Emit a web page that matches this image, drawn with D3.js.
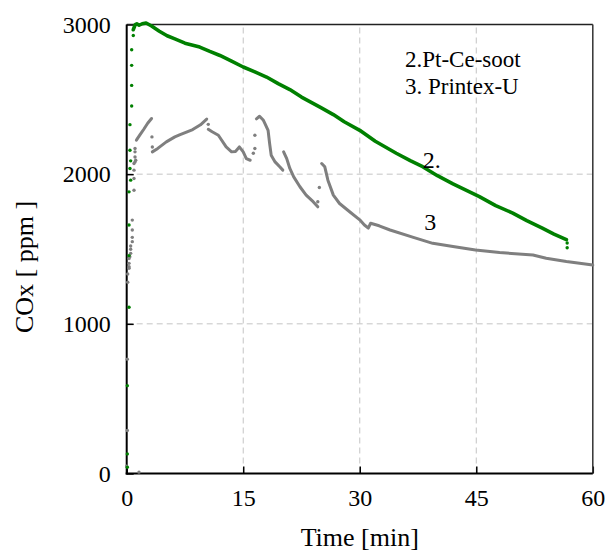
<!DOCTYPE html>
<html>
<head>
<meta charset="utf-8">
<script src="https://cdn.jsdelivr.net/npm/d3@7/dist/d3.min.js"></script>
<style>
  body { margin: 0; background: #fff; }
  svg, svg text { font-family: "Liberation Serif", "Times New Roman", Times, "DejaVu Serif", serif; }
</style>
</head>
<body>
<svg id="chart"></svg>
<script>
const width = 608;
const height = 553;
const green = '#008000';
const gray = '#7f7f7f';
const serif = '"Liberation Serif", "Times New Roman", Times, "DejaVu Serif", serif';

// axis ticks
const xTicks = [0, 15, 30, 45, 60];
const yTicks = [0, 1000, 2000, 3000];
const xGrid = [15, 30, 45];
const yGrid = [1000, 2000];

// 2. Pt-Ce-soot  [time min, COx ppm]
const greenRamp = [[0.08,42],[0.08,131],[0.08,587],[0.3,1111],[0.3,1456],[0.3,1660],[0.3,1882],
    [0.51,1960],[0.42,2038],[0.51,2089],[0.42,2160],[0.42,2331],[0.64,2455],[0.64,2593],
    [0.64,2727],[0.64,2831],[0.85,2927]];
const greenCurve = [[0.85,2965],[1.1,3000],[1.3,3005],[1.6,2995],[2.0,3005],[2.5,3010],[3.2,2990],
    [4.2,2955],[5.2,2925],[6.2,2904],[7.5,2875],[9.4,2849],[10.7,2820],[12,2793],[13.5,2755],
    [15,2716],[16.5,2683],[18,2649],[19.5,2605],[21,2565],[22.5,2515],[25,2445],[26.6,2398],
    [28,2350],[30,2293],[32,2220],[34.7,2140],[36.5,2090],[38.1,2050],[40,1990],[42,1935],
    [45.4,1850],[47.5,1790],[49.7,1740],[51.5,1690],[53.5,1640],[55,1600],[56.6,1562]];
const greenTail = [[56.7,1540],[56.7,1508]];

// 3. Printex-U
const grayRamp = [[0,49],[1.58,9],[0.08,287],[0.08,764],[0.13,1278],[0.13,1333],[0.3,1371],
    [0.3,1382],[0.3,1404],[0.3,1436],[0.4,1449],[0.51,1471],[0.51,1498],[0.51,1520],[0.72,1549],
    [0.72,1578],[0.72,1627],[0.72,1693],[0.94,1893],[0.94,1971],[0.94,2027],[0.94,2071],
    [1.16,2093],[1.07,2082],[1.07,2115],[1.07,2149],[1.07,2171]];
const grayA = [[1.25,2227],[1.7,2262],[2.2,2300],[2.7,2340],[3.2,2372]];
const grayB = [[3.3,2149],[4.0,2172],[5.1,2216],[6.2,2249],[6.8,2262],[8.5,2298],[9.5,2330],[10.3,2368]];
const grayC = [[10.5,2300],[11.0,2283],[11.8,2260],[12.8,2182],[13.5,2149],[14.0,2152],[14.5,2182],
    [15.0,2149],[15.4,2104],[15.9,2093]];
const grayD = [[16.7,2370],[17.1,2387],[17.6,2360],[17.8,2338],[18.2,2293],[18.4,2204],[18.6,2127],
    [19.1,2082],[19.7,2049],[20.1,2027]];
const grayE = [[20.2,2149],[20.6,2104],[21.0,2038],[21.5,1982],[22.3,1916],[23.1,1860],[24.0,1816],[24.6,1782]];
const grayF = [[25.1,2071],[25.5,2049],[25.9,1960],[26.6,1860],[27.4,1804],[28.7,1749],[30.0,1695],
    [30.6,1660],[31.1,1640],[31.4,1672],[32.5,1655],[33.9,1627],[36.9,1578],[39.4,1538],[42.0,1516],
    [44.9,1493],[48.0,1476],[52.3,1460],[54.0,1438],[56.6,1416],[60,1393]];
const grayDots = [[3.25,2249],[3.3,2182],[10.5,2333],[16.3,2140],[16.5,2171],[16.5,2260],[24.6,1816],[24.8,1911]];

const legendLines = ['2.Pt-Ce-soot', '3. Printex-U'];

const svg = d3.select('#chart')
    .attr('width', width)
    .attr('height', height)
    .attr('font-family', serif);

const x = d3.scaleLinear().domain([0, 60]).range([126.7, 592.8]);
const y = d3.scaleLinear().domain([0, 3000]).range([473.5, 24.5]);

drawGrid();
drawAxes();
drawSeries([grayA, grayB, grayC, grayD, grayE, grayF], grayRamp.concat(grayDots), gray, 3);
drawSeries([greenCurve], greenRamp.concat(greenTail), green, 3.6);
drawLabels();

function drawGrid() {
    const g = svg.append('g')
        .attr('stroke', '#c4c4c4')
        .attr('stroke-width', 1)
        .attr('stroke-dasharray', '6,4');
    g.selectAll('.vgrid')
        .data(xGrid)
        .join('line')
        .attr('x1', d => x(d)).attr('x2', d => x(d))
        .attr('y1', y(0)).attr('y2', y(3000));
    g.selectAll('.hgrid')
        .data(yGrid)
        .join('line')
        .attr('x1', x(0)).attr('x2', x(60))
        .attr('y1', d => y(d)).attr('y2', d => y(d));
}

function drawAxes() {
    const xAxis = svg.append('g')
        .attr('transform', `translate(0,${y(0)})`)
        .call(d3.axisBottom(x).tickValues(xTicks).tickFormat(d3.format('d'))
            .tickSizeInner(-7).tickSizeOuter(0).tickPadding(15));
    const yAxis = svg.append('g')
        .attr('transform', `translate(${x(0)},0)`)
        .call(d3.axisLeft(y).tickValues(yTicks).tickFormat(d3.format('d'))
            .tickSizeInner(-7).tickSizeOuter(0).tickPadding(16));

    [xAxis, yAxis].forEach(a => {
        a.attr('font-family', serif).attr('font-size', 24);
        a.select('.domain').remove();
        a.selectAll('.tick line').attr('stroke', '#000').attr('stroke-width', 1.5);
        a.selectAll('.tick text').attr('fill', '#000');
    });

    // frame
    svg.append('line')
        .attr('x1', x(0)).attr('x2', x(60)).attr('y1', y(3000)).attr('y2', y(3000))
        .attr('stroke', '#222').attr('stroke-width', 1.5);
    svg.append('line')
        .attr('x1', x(60)).attr('x2', x(60)).attr('y1', y(3000)).attr('y2', y(0))
        .attr('stroke', '#333').attr('stroke-width', 1.5);
    svg.append('line')
        .attr('x1', x(0)).attr('x2', x(0)).attr('y1', y(3000)).attr('y2', y(0) + 1)
        .attr('stroke', '#000').attr('stroke-width', 2);
    svg.append('line')
        .attr('x1', x(0) - 1).attr('x2', x(60)).attr('y1', y(0)).attr('y2', y(0))
        .attr('stroke', '#000').attr('stroke-width', 2);

    svg.append('text')
        .attr('x', (x(0) + x(60)) / 2)
        .attr('y', 546)
        .attr('text-anchor', 'middle')
        .attr('font-size', 26)
        .text('Time [min]');
    svg.append('text')
        .attr('transform', `translate(33,${(y(0) + y(3000)) / 2 + 18}) rotate(-90)`)
        .attr('text-anchor', 'middle')
        .attr('font-size', 26)
        .text('COx [ ppm ]');
}

function drawSeries(segments, dots, color, lineWidth) {
    const line = d3.line()
        .x(d => x(d[0]))
        .y(d => y(d[1]));
    svg.append('g')
        .selectAll('path')
        .data(segments)
        .join('path')
        .attr('d', line)
        .attr('fill', 'none')
        .attr('stroke', color)
        .attr('stroke-width', lineWidth)
        .attr('stroke-linejoin', 'round')
        .attr('stroke-linecap', 'round');
    svg.append('g')
        .selectAll('circle')
        .data(dots)
        .join('circle')
        .attr('cx', d => x(d[0]))
        .attr('cy', d => y(d[1]))
        .attr('r', 1.7)
        .attr('fill', color);
}

function drawLabels() {
    // curve labels
    svg.append('text')
        .attr('x', x(38.1)).attr('y', y(2040))
        .attr('font-size', 24)
        .text('2.');
    svg.append('text')
        .attr('x', x(38.3)).attr('y', y(1627))
        .attr('font-size', 24)
        .text('3');

    // legend
    svg.append('g')
        .selectAll('text')
        .data(legendLines)
        .join('text')
        .attr('x', 405)
        .attr('y', (d, i) => 67 + i * 27)
        .attr('font-size', 23)
        .text(d => d);
}
</script>
</body>
</html>
